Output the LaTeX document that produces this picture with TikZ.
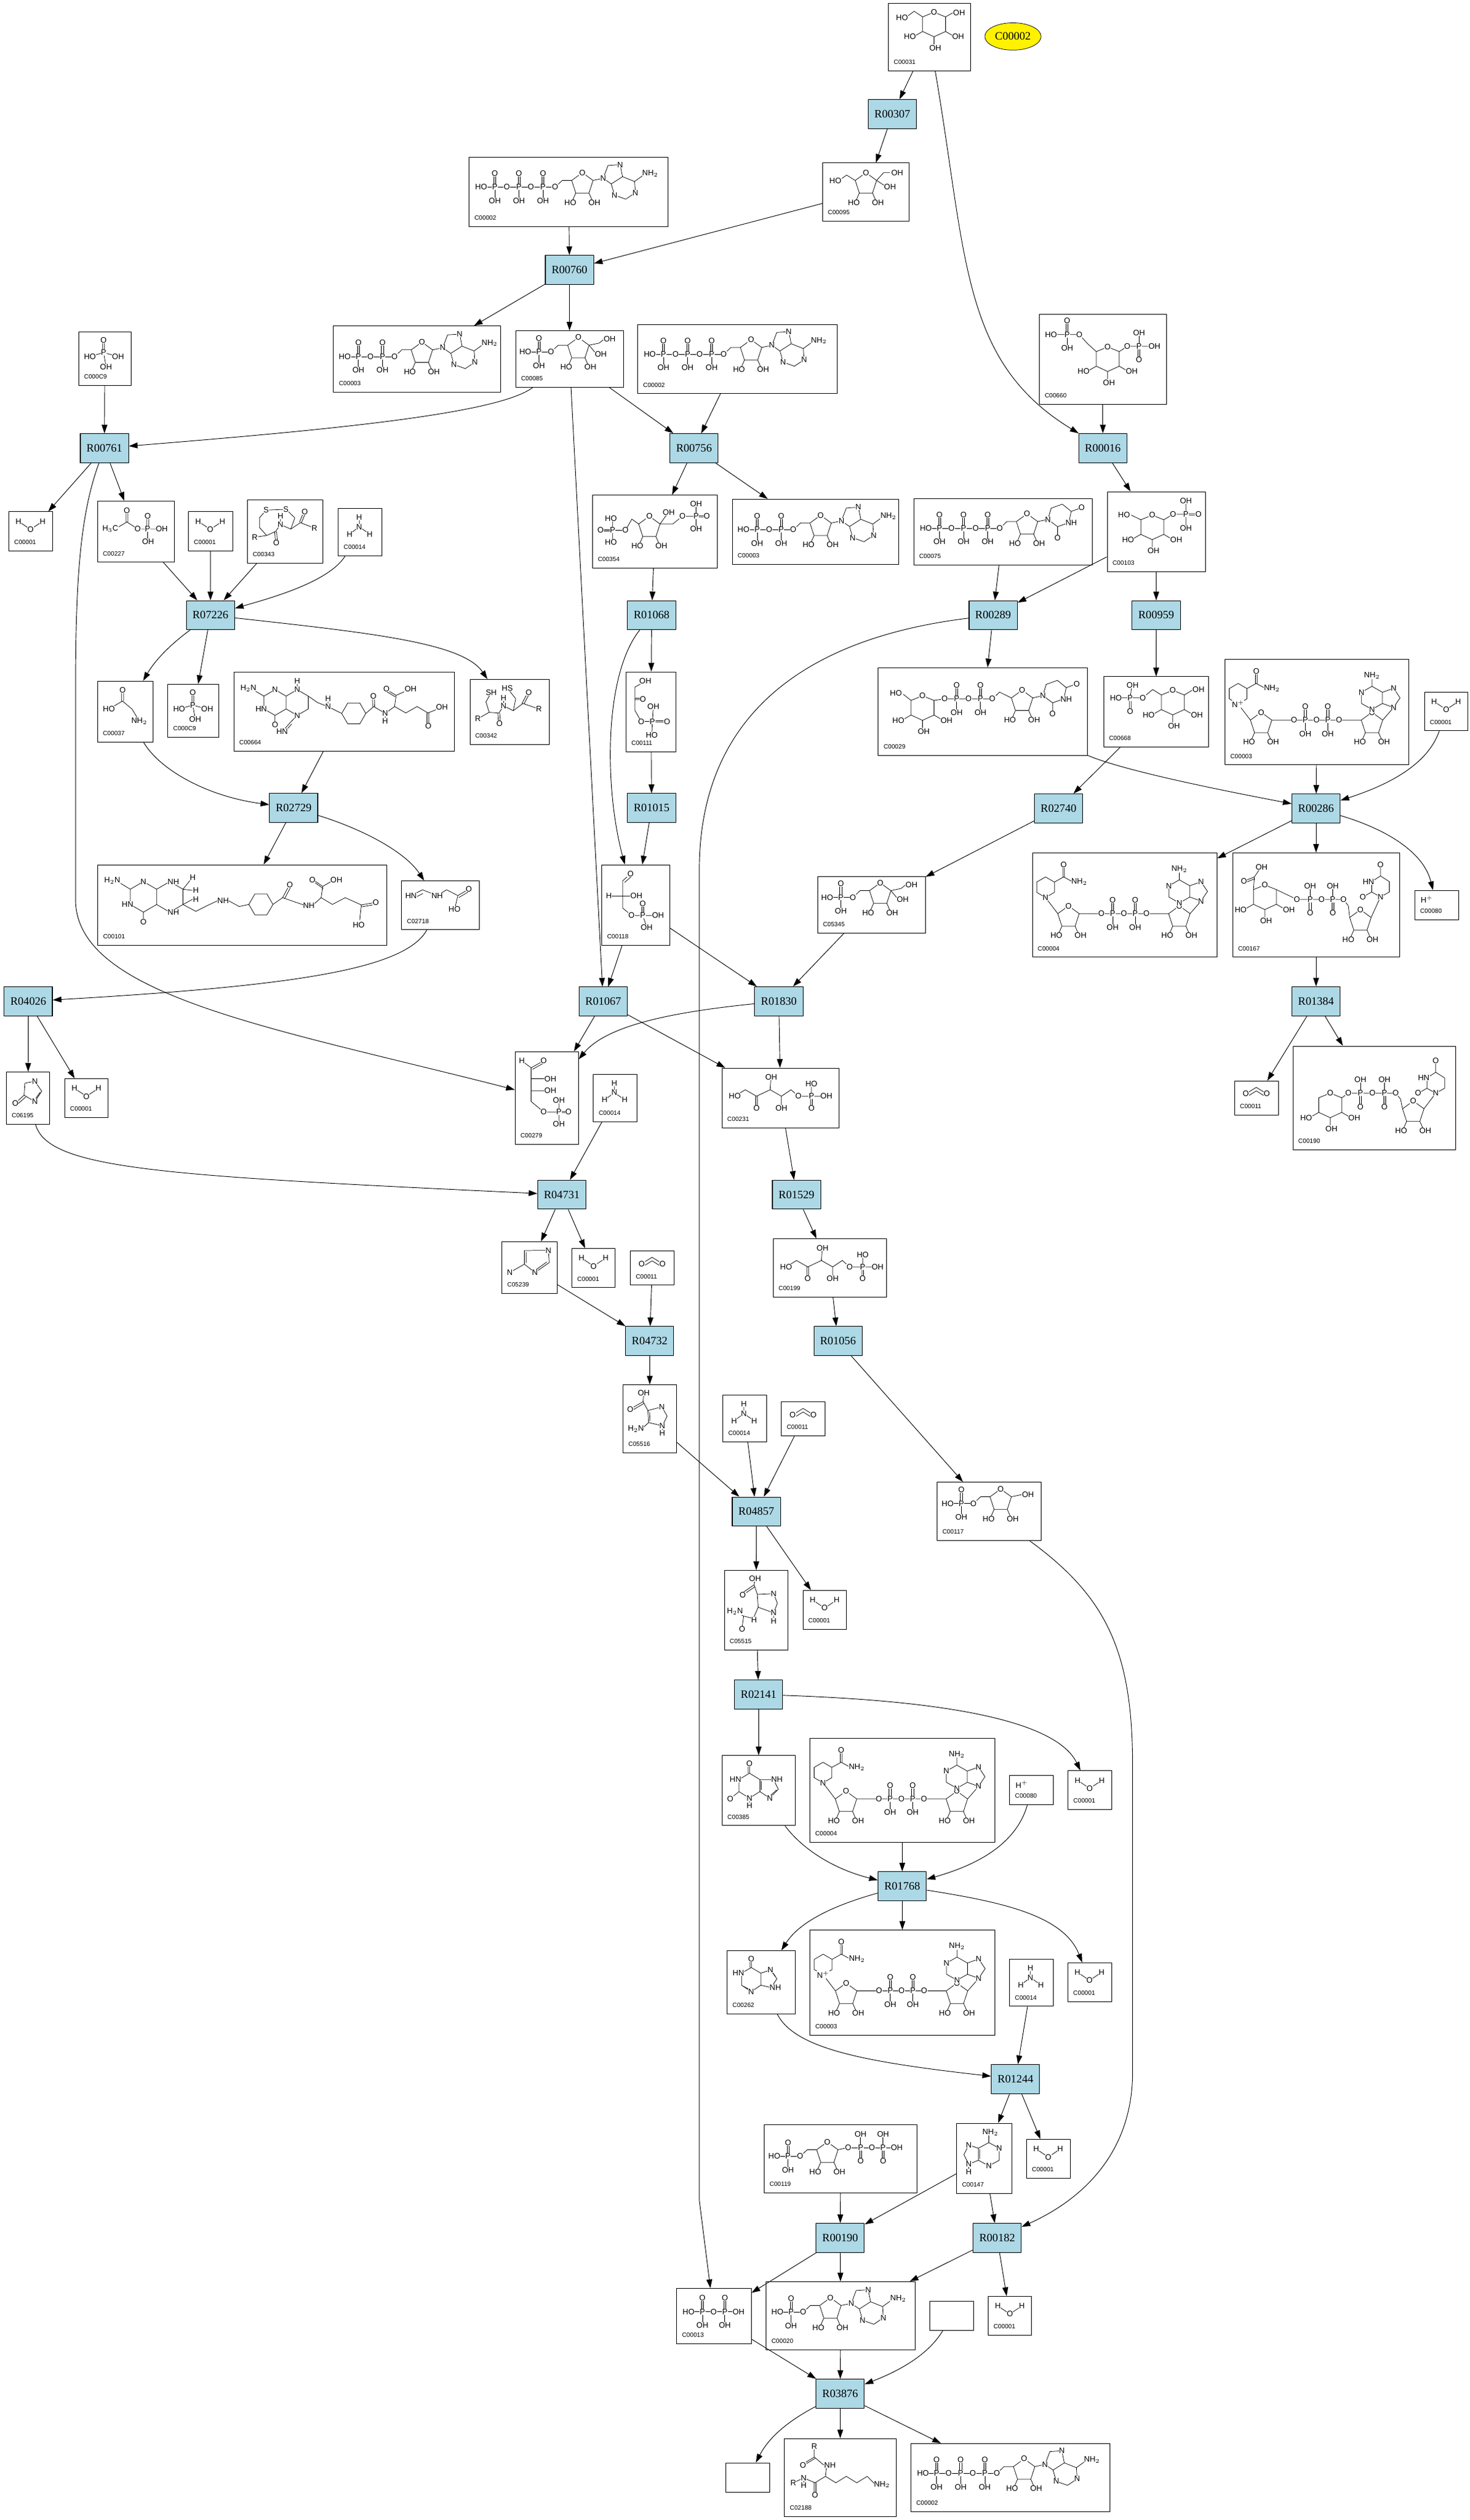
\documentclass[tikz,border=0pt]{standalone}
\usepackage{fontspec}
\setmainfont{Liberation Serif}
\setsansfont{Liberation Sans}
\usetikzlibrary{arrows.meta,shapes.geometric}
\definecolor{rxnblue}{RGB}{173,216,230}
\tikzset{
  rxn/.style={draw, line width=0.6pt, fill=rxnblue, minimum width=15mm, minimum height=9mm, inner sep=0pt, font=\fontsize{10}{10}\selectfont},
  cpdbox/.style={draw, line width=0.5pt, fill=white, inner sep=0pt},
  cid/.style={anchor=base west, inner sep=0pt, xshift=1.7mm, yshift=2.1mm, font=\sffamily\fontsize{5.5}{5.5}\selectfont},
  arr/.style={line width=0.5pt, -{Triangle[length=2.7mm,width=1.8mm]}},
  atm/.style={fill=white, inner sep=0.2pt, font=\sffamily\fontsize{7}{7}\selectfont},
  bnd/.style={line width=0.4pt},
}
% compound box: name, left, top, right, bottom, id, drawing
\newcommand{\cpd}[7]{%
  \node[cpdbox, minimum width={(#4-#2)*0.5mm}, minimum height={(#5-#3)*0.5mm}] (#1) at ({(#2+#4)/2},{(#3+#5)/2}) {};
  \node[cid] (#1id) at (#1.south west) {#6};
  \begin{scope}[shift={(#2,#3)}] #7 \end{scope}}
\newcommand{\punit}[2]{%
  \draw[bnd] ({#1-0.6},{#2}) -- ++(0,-8.5) ({#1+0.6},{#2}) -- ++(0,-8.5) ({#1},{#2}) -- ++(0,8.5);
  \node[atm] at ({#1},{#2}) {P}; \node[atm] at ({#1},{#2-8.5}) {O}; \node[atm] at ({#1},{#2+8.5}) {OH};}
\newcommand{\punitr}[2]{%
  \draw[bnd] ({#1},{#2}) -- ++(0,-8.5) ({#1-0.6},{#2}) -- ++(0,8.5) ({#1+0.6},{#2}) -- ++(0,8.5);
  \node[atm] at ({#1},{#2}) {P}; \node[atm] at ({#1},{#2-8.5}) {OH}; \node[atm] at ({#1},{#2+8.5}) {O};}
\newcommand{\pchain}[3]{%
  \draw[bnd] ({#1},{#2}) -- ++({16+15*(#3-1)},0);
  \foreach \k in {1,...,#3}{\punit{#1+8.5+15*(\k-1)}{#2} \node[atm] at ({#1+16+15*(\k-1)},{#2}) {O};}
  \node[atm] at ({#1},{#2}) {HO};}
\newcommand{\furan}[2]{%
  \begin{scope}[shift={({#1},{#2})}]
    \draw[bnd] (0,-7) -- (6.66,-2.16) -- (4.11,5.66) -- (-4.11,5.66) -- (-6.66,-2.16) -- cycle
      (-4.11,5.66) -- (-6,10) (4.11,5.66) -- (6,10);
    \node[atm] at (0,-7) {O}; \node[atm] at (-7.5,11.5) {HO}; \node[atm] at (7.5,11.5) {OH};
  \end{scope}}
\newcommand{\pyr}[2]{%
  \begin{scope}[shift={({#1},{#2})}]
    \draw[bnd] (0,-7.5) -- (7.2,-4.6) -- (7.2,4.5) -- (0,7.8) -- (-7.1,4.5) -- (-7.1,-4.6) -- cycle
      (-7.1,4.5) -- (-11.5,7) (7.2,4.5) -- (11.5,7) (0,7.8) -- (0,12.5);
    \node[atm] at (0,-7.5) {O}; \node[atm] at (-15,7.8) {HO}; \node[atm] at (15,7.8) {OH}; \node[atm] at (0.8,14.8) {OH};
  \end{scope}}
\newcommand{\ntp}[3]{%
  \pchain{#1}{#2}{#3}
  \pgfmathsetmacro{\nL}{#1+16+15*(#3-1)}
  \draw[bnd] ({\nL+2},{#2-1.8}) -- ({\nL+4.5},{#2-4.2}) -- ({\nL+10.3},{#2-4.2});
  \furan{\nL+17}{#2-2}
  \draw[bnd] ({\nL+23.7},{#2-4.2}) -- ({\nL+30},{#2-5.5});}
\newcommand{\aden}[2]{%
  \begin{scope}[shift={({#1},{#2})}]
    \draw[bnd] (0,0) -- (3,-8) -- (10.5,-8.5) -- (12,-1) -- (5,3.5) -- cycle
      (12,-1) -- (19.5,2) -- (20,9) -- (14,13) -- (7,10.5) -- (5,3.5) (19.5,2) -- (25,-2);
    \node[atm] at (0,0) {N}; \node[atm] at (10.5,-8.5) {N}; \node[atm] at (20,9) {N}; \node[atm] at (7,10.5) {N};
    \node[atm, anchor=west] at (24,-3) {NH$_2$};
  \end{scope}}
\newcommand{\adenup}[2]{%
  \begin{scope}[shift={({#1},{#2})}]
    \draw[bnd] (0,0) -- (4,-6) -- (0,-12) -- (-7,-9.5) -- (-7,-2.5) -- cycle
      (-7,-2.5) -- (-13.5,1.2) -- (-20,-2.5) -- (-20,-9.5) -- (-13.5,-13.2) -- (-7,-9.5) (-13.5,-13.2) -- (-13.5,-18);
    \node[atm] at (0,0) {N}; \node[atm] at (0,-12) {N}; \node[atm] at (-13.5,1.2) {N}; \node[atm] at (-20,-9.5) {N};
    \node[atm] at (-13.5,-20) {NH$_2$};
  \end{scope}}
\newcommand{\ura}[2]{%
  \begin{scope}[shift={({#1},{#2})}]
    \draw[bnd] (0,0) -- (2,-7) -- (9,-9.5) -- (14.5,-5) -- (13,2) -- (6,4.5) -- cycle (14.5,-5) -- (20,-7) (6,4.5) -- (6,10);
    \node[atm] at (0,0) {N}; \node[atm] at (14.5,2.2) {NH}; \node[atm] at (21,-7.3) {O}; \node[atm] at (6,11.5) {O};
  \end{scope}}
\newcommand{\uraup}[2]{%
  \begin{scope}[shift={({#1},{#2})}]
    \draw[bnd] (0,0) -- (-5.5,-3) -- (-5.5,-9.5) -- (0,-13) -- (5.5,-9.5) -- (5.5,-3) -- cycle (-5.5,-3) -- (-10,-0.5) (0,-13) -- (0,-18.5);
    \node[atm] at (0,0) {N}; \node[atm] at (-7.5,-9.5) {HN}; \node[atm] at (-11,0) {O}; \node[atm] at (0,-20) {O};
  \end{scope}}
\newcommand{\nad}[1]{%
  \draw[bnd] (8.2,27.8) -- (13.7,24.6) -- (13.7,18.2) -- (8.2,15) -- (2.7,18.2) -- (2.7,24.6) -- cycle
    (13.7,18.2) -- (19.5,15) -- (25,18) (19,15) -- (19,8.5) (20,15) -- (20,8.5) (8.2,27.8) -- (15.8,37.8);
  \node[atm] at (8.2,27.8) {#1}; \node[atm] at (19.5,7.5) {O}; \node[atm, anchor=west] at (24,18) {NH$_2$};
  \furan{22.5}{40}
  \draw[bnd] (29.2,37.8) -- (84.8,37.8) (98.2,37.8) -- (105,30);
  \punit{50}{37.8} \punit{64}{37.8}
  \foreach \ox in {43,57,71} {\node[atm] at (\ox,37.8) {O};}
  \furan{91.5}{40}
  \adenup{105}{30}}
\newcommand{\atpd}{\ntp{7.5}{18.5}{3}\aden{83.5}{13}}
\newcommand{\adpd}{\ntp{7}{19}{2}\aden{68}{13.5}}
\newcommand{\ampd}{\ntp{7}{19}{1}\aden{53}{13.5}}
\newcommand{\utpd}{\ntp{7.5}{18.5}{3}\ura{83.5}{13}}
\newcommand{\fsix}{\ntp{6}{13.1}{1}
  \draw[bnd] (52,7.6) -- (55,5.2) (45.66,8.94) -- (49.5,13.5);
  \node[atm, anchor=west] at (54.5,5.2) {OH}; \node[atm] at (53,14.5) {OH};}
\newcommand{\ketop}{%
  \draw[bnd] (8,17.5) -- (14.5,13.5) -- (21.5,17.5) -- (30,13.5) -- (37,17.5) -- (43,13.5) -- (47.6,17.5) -- (65,17.5)
    (21,17.5) -- (21,24.5) (22,17.5) -- (22,24.5) (30,13.5) -- (30.5,5.8) (37,17.5) -- (37,24.5)
    (55.7,17.5) -- (55.7,10) (55.2,17.5) -- (55.2,24.5) (56.2,17.5) -- (56.2,24.5);
  \node[atm] at (8,17.5) {HO}; \node[atm] at (21.5,24.8) {O}; \node[atm] at (30.7,5.8) {OH}; \node[atm] at (37,24.8) {OH};
  \node[atm] at (47.6,17.5) {O}; \node[atm] at (55.7,17.5) {P}; \node[atm] at (55.7,9.8) {HO}; \node[atm] at (55.7,24.8) {O}; \node[atm] at (65,17.5) {OH};}
\newcommand{\water}{\draw[bnd] (6,6) -- (13.5,11) -- (21,6);
  \node[atm] at (6,6) {H}; \node[atm] at (13.5,11) {O}; \node[atm] at (21,6) {H};}
\newcommand{\ammonia}{\draw[bnd] (13,5.5) -- (13,11.5) -- (7,16) (13,11.5) -- (19.5,16);
  \node[atm] at (13,5.5) {H}; \node[atm] at (13,11.5) {N}; \node[atm] at (7,16) {H}; \node[atm] at (19.5,16) {H};}
\newcommand{\cotwo}{\draw[bnd] (7,8) -- (13.5,4) -- (20,8) (8.4,9.4) -- (13.5,6.2) -- (18.6,9.4);
  \node[atm] at (7,8) {O}; \node[atm] at (20,8) {O};}
\newcommand{\hplus}{\node[atm] at (7.5,5.5) {H$^+$};}
\newcommand{\phosph}{\draw[bnd] (14.9,13) -- (14.9,5.5) (16.1,13) -- (16.1,5.5) (15.5,13) -- (7,15.5) (15.5,13) -- (24.5,15.5) (15.5,13) -- (17,21.5);
  \node[atm] at (15.5,13) {P}; \node[atm] at (15.5,5.3) {O}; \node[atm] at (7,15.5) {HO}; \node[atm] at (24.5,15.5) {OH}; \node[atm] at (17,21.8) {OH};}

\begin{document}
\begin{tikzpicture}[x=0.5mm,y=-0.5mm]
\fill[white] (0,0) rectangle (915,1569);
\useasboundingbox (0,0) rectangle (915,1569);

\node[draw, ellipse, fill=yellow, minimum width=17.5mm, minimum height=8.5mm, inner sep=0pt, font=\fontsize{10}{10}\selectfont] (key) at (630.5,22.7) {C00002};

\cpd{c31}{553}{2}{604}{44}{C00031}{\pyr{28.4}{13.1}
  \draw[bnd] (35.6,8.5) -- (40,6) (21.3,8.5) -- (16,5) -- (12,8);
  \node[atm] at (44,6) {OH}; \node[atm] at (8.5,9) {HO};}
\cpd{c95}{512}{101.5}{566}{137.6}{C00095}{\furan{27}{13}
  \draw[bnd] (20.34,10.84) -- (15,7.5) -- (11.5,10) (33.66,10.84) -- (38.5,14) (33.66,10.84) -- (38,6) -- (42,6);
  \node[atm] at (8,11) {HO}; \node[atm] at (42,15) {OH}; \node[atm] at (46.5,6) {OH};}
\cpd{c2a}{292}{98}{416}{141}{C00002}{\atpd}
\cpd{c8a}{207.6}{203}{311.8}{244}{C00003}{\adpd}
\cpd{c85}{321}{206}{388}{241}{C00085}{\fsix}
\cpd{c2b}{397}{202}{521}{245}{C00002}{\atpd}
\cpd{c660}{647}{195.5}{726}{251.6}{C00660}{\pyr{42.5}{28}
  \draw[bnd] (49.7,23.4) -- (54.7,20.1) -- (71.6,20.1) (35.4,23.4) -- (30,18.5) -- (24.8,12.8) -- (7.2,12.8);
  \punitr{62}{20.1} \punit{17.3}{12.8}
  \node[atm] at (54.7,20.1) {O}; \node[atm] at (71.6,20.1) {OH}; \node[atm] at (24.8,12.8) {O}; \node[atm] at (7.2,12.8) {HO};}
\cpd{c9a}{49}{206.5}{81.5}{240}{C000C9}{\phosph}
\cpd{c1a}{5.5}{318.6}{32.7}{343}{C00001}{\water}
\cpd{c227}{60.7}{312}{108.5}{350}{C00227}{
  \draw[bnd] (11,17.3) -- (18.3,13) -- (25,17.3) -- (39.8,17.3) (17.7,13) -- (17.7,6) (18.9,13) -- (18.9,6)
    (30.6,17.3) -- (30.6,9.5) (31.8,17.3) -- (31.8,9.5) (31.2,17.3) -- (31.2,24.8);
  \node[atm] at (8,17.3) {H$_3$C}; \node[atm] at (18.3,5.9) {O}; \node[atm] at (25,17.3) {O}; \node[atm] at (31.2,17.3) {P};
  \node[atm] at (31.2,9.3) {O}; \node[atm] at (40,17.3) {OH}; \node[atm] at (31.5,25.3) {OH};}
\cpd{c1b}{117.4}{318.6}{144.8}{343}{C00001}{\water}
\cpd{c343}{154}{311.4}{201}{350.5}{C00343}{
  \draw[bnd] (11.7,6.2) -- (24,5.7) -- (29.5,11) -- (27,18) -- (20.6,15.2) -- (17.5,19.5) -- (12,22) -- (7.5,17) -- (7.5,11) -- cycle
    (12,22) -- (4.6,23.1) (17,19.5) -- (17.5,26) (18.2,19.5) -- (18.7,26) (27,18) -- (33,14) -- (41.7,17.4)
    (32.4,13.8) -- (35.1,7.1) (33.6,14.2) -- (36.3,7.5) (20.6,15.2) -- (20.6,10);
  \node[atm] at (11.7,6.2) {S}; \node[atm] at (24,5.7) {S}; \node[atm] at (20.6,10) {H}; \node[atm] at (20.6,15.2) {N};
  \node[atm] at (18,26.5) {O}; \node[atm] at (4.6,23.1) {R}; \node[atm] at (35.7,7.1) {O}; \node[atm] at (41.7,17.4) {R};}
\cpd{c14a}{210.6}{316.5}{237.7}{346}{C00014}{\ammonia}
\cpd{c354}{368.8}{308.2}{446.4}{353.6}{C00354}{\furan{35.4}{20.2}
  \draw[bnd] (5.4,21.6) -- (12.5,21.6) (5.4,22.4) -- (12.5,22.4) (12.5,14.5) -- (12.5,29.2) (12.5,22) -- (20.5,22) -- (24.5,15) -- (28.74,18.04)
    (42.06,18.04) -- (46,12.5) (42.06,18.04) -- (50,18) -- (56,13.2) -- (64.5,13.2) (64.5,12.8) -- (71,12.8) (64.5,13.6) -- (71,13.6) (64.5,5.7) -- (64.5,20.8);
  \node[atm] at (5,22) {O}; \node[atm] at (12.5,22) {P}; \node[atm] at (20.5,22) {O}; \node[atm] at (11.5,14.5) {HO}; \node[atm] at (11.5,29.5) {HO};
  \node[atm] at (47.5,11) {OH}; \node[atm] at (56,13.2) {O}; \node[atm] at (64.5,13.2) {P}; \node[atm] at (71.2,13.2) {O};
  \node[atm] at (64.5,5.5) {OH}; \node[atm] at (64.5,21) {OH};}
\cpd{c8b}{455.8}{310.8}{559.3}{351.3}{C00003}{\adpd}
\cpd{c75}{568.8}{310.4}{679.8}{351.8}{C00075}{\utpd}
\cpd{c103}{689.2}{306.2}{750.2}{355.8}{C00103}{\pyr{28}{22}
  \draw[bnd] (20.9,17.4) -- (15,14.5) (35.2,17.4) -- (41,14) -- (49,14) (49,13.6) -- (56.5,13.6) (49,14.4) -- (56.5,14.4) (49,6) -- (49,22);
  \node[atm] at (10.5,14.5) {HO}; \node[atm] at (41,14) {O}; \node[atm] at (49,14) {P}; \node[atm] at (56.8,14) {O};
  \node[atm] at (49,5.5) {OH}; \node[atm] at (49,22.5) {OH};}
\cpd{c37}{60.7}{424}{95.2}{462}{C00037}{
  \draw[bnd] (7.1,17.5) -- (15.5,12.5) -- (21.5,17.5) -- (24.5,22.5) (15,12.5) -- (15,6) (16.2,12.5) -- (16.2,6);
  \node[atm] at (7.1,17.5) {HO}; \node[atm] at (15.6,5.5) {O}; \node[atm] at (26,25) {NH$_2$};}
\cpd{c9b}{104.5}{426}{136.3}{459}{C000C9}{\phosph}
\cpd{c664}{145.6}{418.4}{283}{467.6}{C00664}{
  \draw[bnd] (25.6,11) -- (32.5,15) -- (32.5,23) -- (25.6,27) -- (18.7,23) -- (18.7,15) -- cycle
    (32.5,15) -- (39.4,11) -- (46.3,15) -- (46.3,23) -- (39.4,27) -- (32.5,23)
    (18.7,15) -- (13.5,12) (25.6,27) -- (25.6,31.5) (39.4,11) -- (39.4,6.5) (39.4,27) -- (35,31.5) -- (31.5,35.5) (36,32.3) -- (32.5,36.3)
    (46.3,15) -- (52,19) -- (58.6,21.6) -- (67.1,25.8) (58.6,21.6) -- (58.6,17)
    (67.1,25.8) -- (70.85,19.3) -- (78.35,19.3) -- (82.1,25.8) -- (78.35,32.3) -- (70.85,32.3) -- cycle
    (82.1,25.8) -- (87,21.5) -- (94.2,25.8) -- (100,21.5) -- (107,25.5) -- (114,21.5) -- (120.8,25.5) -- (129,22.2)
    (86.4,21.5) -- (86.2,15.6) (87.6,21.5) -- (87.4,15.6) (94.2,25.8) -- (94.2,30)
    (100,21.5) -- (101,14.5) -- (109,11) (101,14.5) -- (95,11) (100.4,15.4) -- (95.2,12.3) (120.2,25.5) -- (120.2,32.8) (121.4,25.5) -- (121.4,32.8);
  \node[atm] at (9,10) {H$_2$N}; \node[atm] at (25.6,11) {N}; \node[atm] at (17,23) {HN}; \node[atm] at (25.6,33) {O};
  \node[atm] at (39.4,11) {N}; \node[atm] at (39.4,5.7) {H}; \node[atm] at (39.4,27) {N}; \node[atm] at (30,37) {HN};
  \node[atm] at (58.6,21.6) {N}; \node[atm] at (58.6,16.5) {H}; \node[atm] at (86.8,15) {O}; \node[atm] at (94.2,25.8) {N};
  \node[atm] at (94.2,30.5) {H}; \node[atm] at (95,10.5) {O}; \node[atm] at (110,10.5) {OH}; \node[atm] at (121,33.5) {O}; \node[atm] at (129.5,22) {OH};}
\cpd{c342}{292.5}{423}{341.8}{463.4}{C00342}{
  \draw[bnd] (13.3,8.1) -- (10,14) -- (12,20.5) -- (5,24.5) (12,20.5) -- (18,21) -- (21,16.5) -- (27,19.5) -- (33,15) -- (42.9,18.4)
    (27,19.5) -- (28.5,12) -- (23.3,5.5) (17.4,21) -- (17.8,27.1) (18.6,21) -- (19,27.1) (32.4,15) -- (36,8.1) (33.6,15.4) -- (37.2,8.5) (21,16.5) -- (21,12);
  \node[atm] at (13.3,8.1) {SH}; \node[atm] at (23.3,5.5) {HS}; \node[atm] at (36.6,8.1) {O}; \node[atm] at (21,11.5) {H};
  \node[atm] at (21,16.5) {N}; \node[atm] at (42.9,18.4) {R}; \node[atm] at (5,24.5) {R}; \node[atm] at (18.4,27.5) {O};}
\cpd{c111}{389.7}{418.3}{420.8}{468}{C00111}{
  \draw[bnd] (12,5.8) -- (5.5,9.5) -- (5.5,24) -- (9.4,30.9) -- (16.4,30.9) (5.5,16.5) -- (10,16.5) (5.5,17.3) -- (10,17.3)
    (16.4,30.5) -- (25.2,30.5) (16.4,31.3) -- (25.2,31.3) (16.4,30.9) -- (17,21.5) (16.4,30.9) -- (16,39.4);
  \node[atm] at (12,5.8) {OH}; \node[atm] at (10.5,16.9) {O}; \node[atm] at (9.4,30.9) {O}; \node[atm] at (16.4,30.9) {P};
  \node[atm] at (25.5,30.9) {O}; \node[atm] at (17,21.5) {OH}; \node[atm] at (16,39.5) {HO};}
\cpd{c29}{546.7}{415.7}{677}{470.2}{C00029}{\pyr{27.5}{25}
  \draw[bnd] (20.4,20.4) -- (15.5,16.5) (34.7,20.4) -- (41.3,19.4) -- (71,19.4) (73,17.6) -- (75.5,15.2) -- (82.84,18.84) (96.16,18.84) -- (102.5,17.4);
  \punit{48.8}{19.4} \punit{63.6}{19.4}
  \node[atm] at (11,16) {HO}; \node[atm] at (41.3,19.4) {O}; \node[atm] at (56.2,19.4) {O}; \node[atm] at (71,19.4) {O};
  \furan{89.5}{21} \ura{102.5}{17.4}}
\cpd{c668}{687}{421.3}{752.3}{464.9}{C00668}{\pyr{43}{16}
  \draw[bnd] (50.2,11.4) -- (55,8.5) (35.9,11.4) -- (30.5,8) -- (24.3,13.2) -- (7.6,13.2) (16.5,13.2) -- (17.5,5.5) (15.9,13.2) -- (15.9,21) (17.1,13.2) -- (17.1,21);
  \node[atm] at (59,8) {OH}; \node[atm] at (24.3,13.2) {O}; \node[atm] at (16.5,13.2) {P}; \node[atm] at (7.6,13.2) {HO};
  \node[atm] at (18,5.3) {OH}; \node[atm] at (16.5,21.5) {O};}
\cpd{c3a}{762.5}{410.5}{877}{476.2}{C00003}{\nad{N$^+$}}
\cpd{c1c}{886.7}{430.8}{913.5}{455}{C00001}{\water}
\cpd{c101}{60.9}{538.4}{240.6}{588.6}{C00101}{
  \draw[bnd] (28.4,10.5) -- (36.6,15.25) -- (36.6,24.75) -- (28.4,29.5) -- (20.2,24.75) -- (20.2,15.25) -- cycle
    (36.6,15.25) -- (44.8,10.5) -- (53,15.25) -- (53,24.75) -- (44.8,29.5) -- (36.6,24.75)
    (20.2,15.25) -- (14,11.5) (28.4,29.5) -- (28.4,33.5) (53,15.25) -- (58,9) (53,15.25) -- (59,16) (53,24.75) -- (59,21.5)
    (53,24.75) -- (61,29) -- (69,25) -- (75,22.2) (81,22.2) -- (88,26) -- (94,24.7)
    (94,24.7) -- (97.75,18.2) -- (105.25,18.2) -- (109,24.7) -- (105.25,31.2) -- (97.75,31.2) -- cycle
    (109,24.7) -- (115,20.5) -- (128,25) (115,20.5) -- (119,13) (116.2,21.2) -- (120.2,13.6) (134.5,24.5) -- (139,20.5)
    (139,20.5) -- (140,13.5) -- (134,9.4) (140.3,14.8) -- (134.6,10.8) (140,13.5) -- (147,9.4)
    (139,20.5) -- (146,24.7) -- (154,20.5) -- (164,25) -- (172.5,23.5) (164.2,26.2) -- (172.7,24.7) (164,25) -- (163,34.5);
  \node[atm] at (9,10) {H$_2$N}; \node[atm] at (28.4,10.5) {N}; \node[atm] at (18.5,24.75) {HN}; \node[atm] at (28.4,35.5) {O};
  \node[atm, anchor=west] at (43.2,10.5) {NH}; \node[atm, anchor=west] at (43.2,29.5) {NH};
  \node[atm] at (59,8) {H}; \node[atm] at (61,16) {H}; \node[atm] at (61,21.5) {H}; \node[atm] at (78,22.2) {NH};
  \node[atm] at (119.5,12.5) {O}; \node[atm] at (131.3,25.3) {NH}; \node[atm] at (133.5,9.4) {O}; \node[atm] at (148.5,9.4) {OH};
  \node[atm] at (173,23.5) {O}; \node[atm] at (162.4,37.5) {HO};}
\cpd{c2718}{250}{548.5}{298.2}{578.8}{C02718}{
  \draw[bnd] (5.8,9.1) -- (13,5.5) -- (22.1,9.1) -- (28,5.5) -- (35,9.1) -- (41.8,5.1) (35,9.1) -- (33,17.5) (7.5,10.8) -- (13.2,7.8) (35.6,10.3) -- (42.4,6.3);
  \node[atm] at (5.8,9.1) {HN}; \node[atm] at (22.1,9.1) {NH}; \node[atm] at (41.8,5.1) {O}; \node[atm] at (32.9,17.5) {HO};}
\cpd{c118}{374.6}{538.4}{416.8}{588.6}{C00118}{
  \draw[bnd] (17.9,5.6) -- (13,10) -- (13,27) -- (18.5,31.5) -- (35,31.5) (18.8,7) -- (14.2,11) (4.4,19.5) -- (21.2,19.5)
    (24.9,31.5) -- (24.9,24.6) (26.1,31.5) -- (26.1,24.6) (25.5,31.5) -- (27.9,38.7);
  \node[atm] at (17.9,5.6) {O}; \node[atm] at (4.4,19.5) {H}; \node[atm] at (21.5,19.5) {OH}; \node[atm] at (18.5,31.5) {O};
  \node[atm] at (25.5,31.5) {P}; \node[atm] at (35,31.5) {OH}; \node[atm] at (25.5,24.4) {O}; \node[atm] at (27.9,38.9) {OH};}
\cpd{c5345}{508.9}{545.6}{576}{580.9}{C05345}{\fsix}
\cpd{c4a}{642.6}{531}{757.5}{595.9}{C00004}{\nad{N}}
\cpd{c167}{767.3}{531}{871.1}{595.9}{C00167}{\pyr{20}{27.5}
  \draw[bnd] (12.9,22.9) -- (13.5,15) -- (16.5,10.5) (13.5,15) -- (8.5,17) (13.9,16.1) -- (8.9,18.1)
    (27.2,22.9) -- (40,29) -- (69,29) -- (72,33) -- (72.84,40.24) (86.16,40.24) -- (92,27.4);
  \punitr{48.2}{29} \punitr{62.3}{29}
  \node[atm] at (7,17.5) {O}; \node[atm] at (18,9) {OH}; \node[atm] at (40,29) {O}; \node[atm] at (55.3,29) {O}; \node[atm] at (69,29) {O};
  \furan{79.5}{42.4} \uraup{92}{27.4}}
\cpd{c80a}{880.6}{554.4}{907.9}{572.6}{C00080}{\hplus}
\cpd{c6195}{4}{667.4}{31}{700}{C06195}{
  \draw[bnd] (11.5,7) -- (17.7,5.8) -- (22,12) -- (17.7,18.5) -- (11,14.5) -- cycle (11,14.5) -- (5.5,19.4) (12,15.6) -- (6.6,20.3) (21,12.6) -- (17.4,17.8);
  \node[atm] at (17.7,5.8) {N}; \node[atm] at (17.7,18.5) {N}; \node[atm] at (5.5,19.4) {O};}
\cpd{c1d}{40.3}{671.6}{67.4}{695.8}{C00001}{\water}
\cpd{c279}{320.6}{654.8}{360}{712.3}{C00279}{
  \draw[bnd] (4.2,5.7) -- (10,10) -- (17.8,5.7) (10.8,11) -- (17.6,7.2) (10,10) -- (10,31) -- (17.8,37.5) -- (27.3,37.5)
    (10,16.8) -- (19,16.8) (10,24.3) -- (19,24.3) (27.3,37.1) -- (33,37.1) (27.3,37.9) -- (33,37.9) (27.3,30.4) -- (27.3,44.7);
  \node[atm] at (4.2,5.7) {H}; \node[atm] at (17.8,5.7) {O}; \node[atm] at (22,16.8) {OH}; \node[atm] at (22,24.3) {OH};
  \node[atm] at (17.8,37.5) {O}; \node[atm] at (27.3,37.5) {P}; \node[atm] at (33.3,37.5) {O}; \node[atm] at (27.3,30.2) {OH}; \node[atm] at (27.3,44.9) {OH};}
\cpd{c14b}{369.4}{668.8}{396.5}{698.3}{C00014}{\ammonia}
\cpd{c231}{449.4}{665}{522.3}{702.2}{C00231}{\ketop}
\cpd{c11a}{768.5}{673}{796}{694.2}{C00011}{\cotwo}
\cpd{c190}{804.8}{651.3}{906}{715.8}{C00190}{\pyr{23.2}{36.8}
  \draw[bnd] (30.4,32.2) -- (34.5,29.3) -- (64,29.3) -- (67,33) -- (68.24,39.04) (81.56,39.04) -- (88.9,29.3);
  \punitr{42}{29.3} \punitr{57}{29.3}
  \node[atm] at (34.5,29.3) {O}; \node[atm] at (49.5,29.3) {O}; \node[atm] at (64,29.3) {O};
  \furan{74.9}{41.2} \uraup{88.9}{29.3}}
\cpd{c5239}{312.4}{773.1}{346.7}{805.3}{C05239}{
  \draw[bnd] (14,5.5) -- (29,5.4) -- (29.5,13) -- (20.6,19.2) -- (14,14) -- cycle (14,14) -- (4.9,19.2) (15.2,6.6) -- (15.2,13.2) (28,12.6) -- (21,17.6);
  \node[atm] at (29,5.4) {N}; \node[atm] at (20.6,19.2) {N}; \node[atm] at (4.9,19.2) {N};}
\cpd{c1e}{356}{777.3}{383}{801.6}{C00001}{\water}
\cpd{c11b}{392.4}{778.8}{419.5}{800.1}{C00011}{\cotwo}
\cpd{c199}{481.3}{771.3}{551.7}{807.5}{C00199}{\ketop}
\cpd{c5516}{387.8}{862.2}{421.2}{904.6}{C05516}{
  \draw[bnd] (15.5,16) -- (24.2,13.7) -- (27.5,19.5) -- (24.5,25.5) -- (16,23.5) -- cycle (15.5,16) -- (12.5,10.5) -- (12.9,5.5)
    (12.5,10.5) -- (5.5,14.5) (13,11.6) -- (6.2,15.6) (16,23.5) -- (11.5,27.5) (24.5,25.5) -- (24.5,29.5) (16.5,17) -- (16.8,22.5);
  \node[atm] at (12.9,5) {OH}; \node[atm] at (4.5,15.5) {O}; \node[atm] at (24.2,13.7) {N}; \node[atm] at (8,27.5) {H$_2$N};
  \node[atm] at (24.5,25.5) {N}; \node[atm] at (24.5,30) {H};}
\cpd{c14c}{450}{868.6}{477.3}{897.8}{C00014}{\ammonia}
\cpd{c11c}{486.4}{872.9}{513.4}{894}{C00011}{\cotwo}
\cpd{c117}{583.3}{922.8}{648.1}{959.2}{C00117}{\ntp{6.6}{13.3}{1} \node[atm, anchor=west] at (52.6,7.8) {OH};}
\cpd{c5515}{450.9}{977.7}{490.5}{1027.3}{C05515}{
  \draw[bnd] (20.5,15) -- (30.7,14.5) -- (33,20.5) -- (30.7,26.5) -- (21,23) -- cycle (20.5,15) -- (18.5,9) -- (19.1,5.3)
    (18.5,9) -- (12,13.5) (19,10.2) -- (12.6,14.6) (21,23) -- (18,30) -- (12,28.5) -- (7,26) (12,28.5) -- (11,35.5) (30.7,26.5) -- (30.7,31);
  \node[atm] at (19.1,5) {OH}; \node[atm] at (11.4,15.5) {O}; \node[atm] at (30.7,14.5) {N}; \node[atm] at (30.7,26.5) {N};
  \node[atm] at (30.7,31.5) {H}; \node[atm] at (6.6,25.5) {H$_2$N}; \node[atm] at (11,36.5) {O}; \node[atm] at (18.5,31) {H};}
\cpd{c1f}{499.8}{990.2}{526.7}{1014.3}{C00001}{\water}
\cpd{c385}{449.5}{1093}{495}{1136.6}{C00385}{
  \draw[bnd] (17,11) -- (10.5,15) -- (10.5,22.5) -- (17,26.5) -- (23.5,22.5) -- (23.5,15) -- cycle
    (23.5,15) -- (32,15) -- (35,21) -- (29.7,26.5) -- (23.5,22.5) (17,11) -- (17,5.5) (16.2,11) -- (16.2,5.5)
    (10.5,22.5) -- (5.5,26.5) (17,26.5) -- (17,30.5) (24.3,16) -- (24.3,21.5) (33.8,21.5) -- (29.5,25.5);
  \node[atm] at (17,5) {O}; \node[atm] at (8.3,15) {HN}; \node[atm] at (5,27) {O}; \node[atm] at (17,26.5) {N};
  \node[atm] at (17,31) {H}; \node[atm, anchor=west] at (30.3,15) {NH}; \node[atm] at (29.7,26.5) {N};}
\cpd{c4b}{504.1}{1082.2}{619.3}{1147}{C00004}{\nad{N}}
\cpd{c80b}{628.5}{1105.5}{655.7}{1123.6}{C00080}{\hplus}
\cpd{c1g}{664.8}{1102.5}{692}{1126.6}{C00001}{\water}
\cpd{c262}{452.6}{1214.5}{495}{1253.9}{C00262}{
  \draw[bnd] (15,10.5) -- (9,14) -- (9,21.5) -- (15,25.5) -- (21,21.5) -- (21,14) -- cycle
    (21,14) -- (27,12) -- (31,17.5) -- (27.5,23) -- (21,21.5) (15,10.5) -- (15,5.5) (14.2,10.5) -- (14.2,5.5) (9.8,22) -- (14.6,24.6) (27.8,12.8) -- (30.2,16.2);
  \node[atm] at (15,5) {O}; \node[atm] at (7,14) {HN}; \node[atm] at (15,25.5) {N}; \node[atm] at (27,12) {N};
  \node[atm, anchor=west] at (26.2,23) {NH};}
\cpd{c3b}{504.2}{1201.7}{619.4}{1267.2}{C00003}{\nad{N$^+$}}
\cpd{c14d}{628.4}{1219.8}{655.7}{1249.1}{C00014}{\ammonia}
\cpd{c1h}{664.7}{1222}{692.1}{1246.3}{C00001}{\water}
\cpd{c119}{475.7}{1323}{570.9}{1365.3}{C00119}{\ntp{6.3}{19.6}{1}
  \draw[bnd] (52.3,14.1) -- (82,14.1);
  \punitr{60}{14.1} \punitr{74}{14.1}
  \node[atm] at (52.3,14.1) {O}; \node[atm] at (67,14.1) {O}; \node[atm] at (82.5,14.1) {OH};}
\cpd{c147}{595.5}{1322}{629.8}{1365.7}{C00147}{
  \draw[bnd] (20,12) -- (26.5,15.5) -- (26.5,23) -- (20,26.5) -- (13.5,23) -- (13.5,15.5) -- cycle
    (13.5,15.5) -- (7.5,13.5) -- (4.5,19.5) -- (7.5,25.5) -- (13.5,23) (20,12) -- (20,7.5) (7.5,25.5) -- (7.5,30) (14.2,16.3) -- (14.2,22.2);
  \node[atm] at (21,5.5) {NH$_2$}; \node[atm] at (7.5,13.5) {N}; \node[atm] at (26.5,15.5) {N}; \node[atm] at (20,26.5) {N};
  \node[atm] at (7.5,25.5) {N}; \node[atm] at (7.5,30.3) {H};}
\cpd{c1i}{639}{1332}{666.4}{1356.2}{C00001}{\water}
\cpd{c13}{421.2}{1424.8}{467.6}{1459.3}{C00013}{
  \draw[bnd] (7.4,14.5) -- (38.3,14.5);
  \punit{16}{14.5} \punit{30}{14.5}
  \node[atm] at (7.4,14.5) {HO}; \node[atm] at (23,14.5) {O}; \node[atm] at (38.5,14.5) {OH};}
\cpd{c20}{476.9}{1420.6}{569.7}{1463.1}{C00020}{\ampd}
\cpd{c1j}{615.1}{1429.7}{642.1}{1454}{C00001}{\water}
\cpd{c2188}{488.3}{1518.3}{557.8}{1566.9}{C02188}{
  \draw[bnd] (18.6,5.3) -- (18.6,11.5) -- (12,15.5) (19.1,12.3) -- (12.5,16.3) (18.6,11.5) -- (24.5,16.5)
    (26.3,16.5) -- (25.5,23.5) -- (19,27.5) -- (12,24.5) -- (5.5,27.5) (12,24.5) -- (12,28.5) (18.4,27.5) -- (18.4,33.5) (19.6,27.5) -- (19.6,33.5)
    (25.5,23.5) -- (32,27.5) -- (38.5,23.5) -- (45,27.5) -- (51.5,23.5) -- (56,28);
  \node[atm] at (18.6,5) {R}; \node[atm] at (11.5,16.5) {O}; \node[atm, anchor=west] at (24.5,16.5) {NH}; \node[atm] at (12,24.5) {N};
  \node[atm] at (12,29) {H}; \node[atm] at (5.5,27.5) {R}; \node[atm] at (19,35) {O}; \node[atm, anchor=west] at (55.5,28.5) {NH$_2$};}
\cpd{c2c}{567}{1521.4}{691}{1563.8}{C00002}{\atpd}
\node[cpdbox, minimum width=13.65mm, minimum height=9.1mm] (e1) at (592.35,1441.8) {};
\node[cpdbox, minimum width=13.6mm, minimum height=9.15mm] (e2) at (465.6,1542.55) {};

\node[rxn] (R00307) at (555.5,71) {R00307};
\node[rxn] (R00760) at (354.5,168) {R00760};
\node[rxn] (R00761) at (65,279) {R00761};
\node[rxn] (R00756) at (432,279) {R00756};
\node[rxn] (R00016) at (686.5,279) {R00016};
\node[rxn] (R07226) at (131,383) {R07226};
\node[rxn] (R01068) at (405.6,383) {R01068};
\node[rxn] (R00289) at (618.2,383) {R00289};
\node[rxn] (R00959) at (719.7,383) {R00959};
\node[rxn] (R02729) at (182.8,503) {R02729};
\node[rxn] (R01015) at (405.6,503) {R01015};
\node[rxn] (R02740) at (658.9,503.3) {R02740};
\node[rxn] (R00286) at (819.2,503.3) {R00286};
\node[rxn] (R04026) at (17.6,623.5) {R04026};
\node[rxn] (R01067) at (375.5,623.5) {R01067};
\node[rxn] (R01830) at (484.8,623.4) {R01830};
\node[rxn] (R01384) at (819.2,623.4) {R01384};
\node[rxn] (R04731) at (349.7,743.8) {R04731};
\node[rxn] (R01529) at (495.8,743.8) {R01529};
\node[rxn] (R04732) at (404.4,834.9) {R04732};
\node[rxn] (R01056) at (521.6,834.9) {R01056};
\node[rxn] (R04857) at (470.8,941.1) {R04857};
\node[rxn] (R02141) at (472.2,1055) {R02141};
\node[rxn] (R01768) at (561.6,1174.4) {R01768};
\node[rxn] (R01244) at (632.1,1294.4) {R01244};
\node[rxn] (R00190) at (523,1393.3) {R00190};
\node[rxn] (R00182) at (620.7,1393.3) {R00182};
\node[rxn] (R03876) at (523,1490.3) {R03876};

\draw[arr] (c31) -- (R00307);
\draw[arr] (R00307) -- (c95);
\draw[arr] (c95) -- (R00760);
\draw[arr] (c2a) -- (R00760);
\draw[arr] (c31) .. controls (602,160) and (598,225) .. (R00016);
\draw[arr] (R00760) -- (c8a);
\draw[arr] (R00760) -- (c85);
\draw[arr] (c85) .. controls (310,258) and (200,268) .. (R00761);
\draw[arr] (c85) -- (R00756);
\draw[arr] (c85) -- (R01067);
\draw[arr] (c2b) -- (R00756);
\draw[arr] (c9a) -- (R00761);
\draw[arr] (R00761) -- (c1a);
\draw[arr] (R00761) -- (c227);
\draw[arr] (R00761) .. controls (50,320) and (47,360) .. (47,430) -- (47,560) .. controls (47,620) and (170,640) .. (c279);
\draw[arr] (R00756) -- (c354);
\draw[arr] (R00756) -- (c8b);
\draw[arr] (c660) -- (R00016);
\draw[arr] (R00016) -- (c103);
\draw[arr] (c75) -- (R00289);
\draw[arr] (c103) -- (R00289);
\draw[arr] (c103) -- (R00959);
\draw[arr] (c227) -- (R07226);
\draw[arr] (c1b) -- (R07226);
\draw[arr] (c343) -- (R07226);
\draw[arr] (c14a) .. controls (205,362) and (170,372) .. (R07226);
\draw[arr] (c354) -- (R01068);
\draw[arr] (R07226) .. controls (105,402) and (96,412) .. (c37);
\draw[arr] (R07226) -- (c9b);
\draw[arr] (R07226) .. controls (230,394) and (288,400) .. (c342);
\draw[arr] (R01068) -- (c111);
\draw[arr] (R01068) .. controls (376,420) and (376,490) .. (c118);
\draw[arr] (R00289) -- (c29);
\draw[arr] (R00289) .. controls (495,398) and (436,450) .. (435.3,540) -- (435.3,1370) -- (c13);
\draw[arr] (R00959) -- (c668);
\draw[arr] (c664) -- (R02729);
\draw[arr] (c37) .. controls (100,480) and (130,496) .. (R02729);
\draw[arr] (c111) -- (R01015);
\draw[arr] (c668) -- (R02740);
\draw[arr] (c29) .. controls (700,480) and (760,492) .. (R00286);
\draw[arr] (c3a) -- (R00286);
\draw[arr] (c1c) .. controls (888,478) and (860,490) .. (R00286);
\draw[arr] (R02729) -- (c101);
\draw[arr] (R02729) .. controls (225,516) and (252,530) .. (c2718);
\draw[arr] (R01015) -- (c118);
\draw[arr] (R02740) -- (c5345);
\draw[arr] (R00286) -- (c4a);
\draw[arr] (R00286) -- (c167);
\draw[arr] (R00286) .. controls (862,516) and (886,530) .. (c80a);
\draw[arr] (c2718) .. controls (252,604) and (180,614) .. (R04026);
\draw[arr] (c118) -- (R01067);
\draw[arr] (c118) -- (R01830);
\draw[arr] (c5345) -- (R01830);
\draw[arr] (c167) -- (R01384);
\draw[arr] (R04026) -- (c6195);
\draw[arr] (R04026) -- (c1d);
\draw[arr] (R01067) -- (c279);
\draw[arr] (R01067) -- (c231);
\draw[arr] (R01830) .. controls (420,630) and (378,638) .. (c279);
\draw[arr] (R01830) -- (c231);
\draw[arr] (R01384) -- (c11a);
\draw[arr] (R01384) -- (c190);
\draw[arr] (c6195) .. controls (30,728) and (100,732) .. (R04731);
\draw[arr] (c14b) -- (R04731);
\draw[arr] (c231) -- (R01529);
\draw[arr] (R04731) -- (c5239);
\draw[arr] (R04731) -- (c1e);
\draw[arr] (R01529) -- (c199);
\draw[arr] (c5239) -- (R04732);
\draw[arr] (c11b) -- (R04732);
\draw[arr] (c199) -- (R01056);
\draw[arr] (R04732) -- (c5516);
\draw[arr] (R01056) -- (c117);
\draw[arr] (c5516) -- (R04857);
\draw[arr] (c14c) -- (R04857);
\draw[arr] (c11c) -- (R04857);
\draw[arr] (R04857) -- (c5515);
\draw[arr] (R04857) -- (c1f);
\draw[arr] (c117) .. controls (690,995) and (705,1030) .. (705,1100) -- (705,1290) .. controls (705,1345) and (668,1372) .. (R00182);
\draw[arr] (c5515) -- (R02141);
\draw[arr] (R02141) -- (c385);
\draw[arr] (R02141) .. controls (560,1058) and (655,1066) .. (c1g);
\draw[arr] (c385) .. controls (500,1152) and (520,1164) .. (R01768);
\draw[arr] (c4b) -- (R01768);
\draw[arr] (c80b) .. controls (632,1150) and (605,1162) .. (R01768);
\draw[arr] (R01768) .. controls (520,1186) and (498,1196) .. (c262);
\draw[arr] (R01768) -- (c3b);
\draw[arr] (R01768) .. controls (622,1184) and (662,1192) .. (c1h);
\draw[arr] (c262) .. controls (495,1276) and (540,1284) .. (R01244);
\draw[arr] (c14d) -- (R01244);
\draw[arr] (R01244) -- (c147);
\draw[arr] (R01244) -- (c1i);
\draw[arr] (c119) -- (R00190);
\draw[arr] (c147) -- (R00190);
\draw[arr] (c147) -- (R00182);
\draw[arr] (R00190) -- (c13);
\draw[arr] (R00190) -- (c20);
\draw[arr] (R00182) -- (c20);
\draw[arr] (R00182) -- (c1j);
\draw[arr] (c13) -- (R03876);
\draw[arr] (c20) -- (R03876);
\draw[arr] (e1) .. controls (578,1466) and (560,1476) .. (R03876);
\draw[arr] (R03876) .. controls (495,1505) and (480,1515) .. (e2);
\draw[arr] (R03876) -- (c2188);
\draw[arr] (R03876) -- (c2c);
\end{tikzpicture}
\end{document}
